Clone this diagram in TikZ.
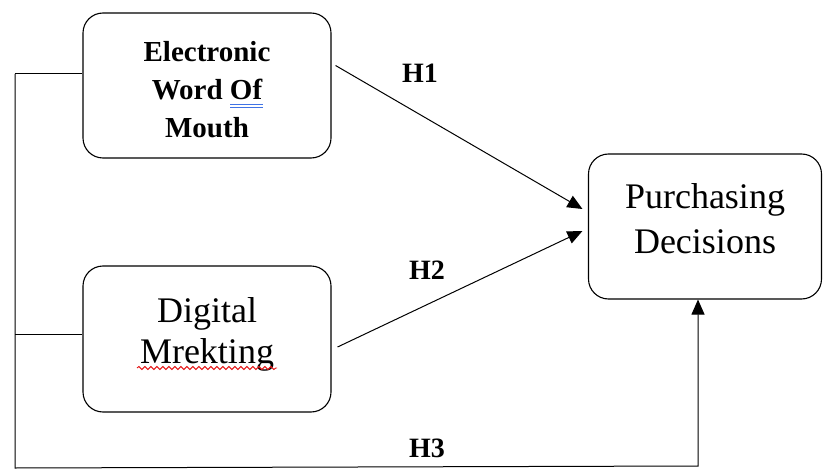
\documentclass[tikz,border=0pt]{standalone}
\usepackage{fontspec}
\setmainfont{Liberation Serif}
\usetikzlibrary{arrows.meta,decorations.pathmorphing}
\definecolor{spellblue}{rgb}{0.25,0.45,0.9}
\definecolor{spellred}{rgb}{0.9,0.1,0.1}

\begin{document}
\begin{tikzpicture}[x=1pt,y=-1pt,
    kotak/.style={draw, line width=1.1pt, rounded corners=20pt, align=center, inner sep=0pt, text depth=0pt},
    garis/.style={line width=1pt},
    panah/.style={line width=1pt, -{Triangle[length=15pt,width=13pt]}},
    hipo/.style={font=\fontsize{28}{30}\selectfont\bfseries}]
    \useasboundingbox (0,0) rectangle (824,473);
    % kotak variabel
    \node[kotak, minimum width=248, minimum height=145, text height=105pt, font=\fontsize{29}{38}\selectfont\bfseries] (ewom) at (207,85.5) {Electronic\\Word Of\\Mouth};
    \node[kotak, minimum width=248, minimum height=146, text height=48pt, font=\fontsize{36}{41}\selectfont] (dm) at (207,339) {Digital\\Mrekting};
    \node[kotak, minimum width=233, minimum height=145, text height=53pt, font=\fontsize{36}{45}\selectfont] (pd) at (705,226.5) {Purchasing\\Decisions};
    % tanda ejaan
    \draw[spellblue, line width=0.8pt] (230,104)--(263,104) (230,107.5)--(263,107.5);
    \draw[spellred, line width=0.9pt, decorate, decoration={snake, amplitude=1.5pt, segment length=6pt}] (137,368)--(277,368);
    % hipotesis
    \draw[panah] ([shift={(4,-20)}]ewom.east) -- ([shift={(-5.5,-17.5)}]pd.west);
    \draw[panah] ([shift={(6,8)}]dm.east) -- ([shift={(-5.5,4.5)}]pd.west);
    \coordinate (kiri) at (15,74);
    \coordinate (kiri2) at (15,334);
    \coordinate (sudut) at (15,468);
    \coordinate (naik) at (698,466);
    \draw[garis] (kiri) -- (kiri -| ewom.west);
    \draw[garis] (kiri2) -- (kiri2 -| dm.west);
    \draw[panah] (kiri) -- (sudut) -- (naik) -- (naik |- pd.south);
    \node[hipo] (h1) at (420,73) {H1};
    \node[hipo] (h2) at (427,270) {H2};
    \node[hipo] (h3) at (427,448) {H3};
\end{tikzpicture}
\end{document}
